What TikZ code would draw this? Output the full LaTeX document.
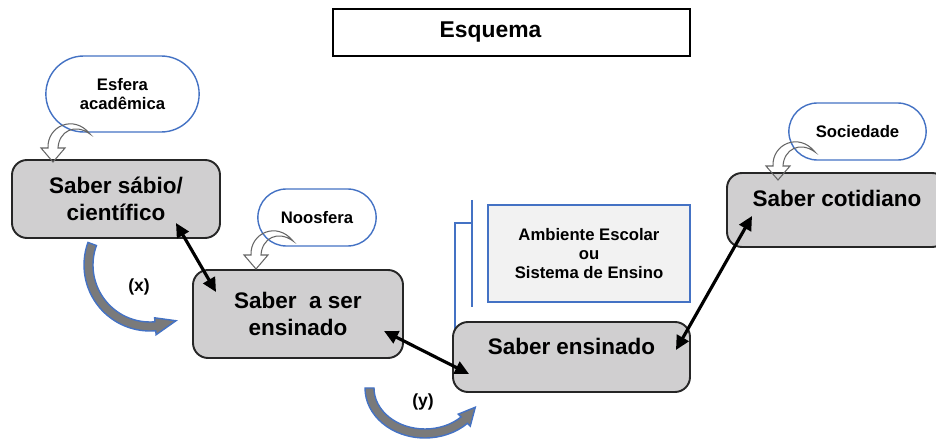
\documentclass[tikz,border=0pt]{standalone}
\usepackage{fontspec}
\setmainfont{Liberation Sans}
\usetikzlibrary{calc,arrows.meta,shapes.misc}
\definecolor{boxgray}{RGB}{208,207,208}
\definecolor{pillblue}{RGB}{68,114,196}
\definecolor{arrowgray}{RGB}{122,122,122}
\definecolor{palegray}{RGB}{242,242,242}
\def\turnarrow(#1){\draw[turn, shift={(#1)}] (0,0) -- (-0.24,0.28) -- (-0.1,0.28) .. controls (-0.12,0.72) and (0.42,0.96) .. (0.74,0.56) .. controls (0.44,0.78) and (0.12,0.62) .. (0.1,0.28) -- (0.24,0.28) -- cycle;}
\def\bentarrow(#1)(#2:#3:#4:#5){\pgfmathsetmacro\bentend{#3+20}\draw[bigarrow, shift={(#1)}] (#2:#4 and #5) arc[start angle=#2, end angle=#3, x radius=#4, y radius=#5] -- (#3:#4+0.08 and #5+0.08) -- (\bentend:#4-0.09 and #5-0.09) -- (#3:#4-0.26 and #5-0.26) -- (#3:#4-0.18 and #5-0.18) arc[start angle=#3, end angle=#2, x radius=#4-0.18, y radius=#5-0.18] -- cycle;}
\tikzset{
  saber/.style={draw=black!85, line width=1.1pt, fill=boxgray, rounded corners=0.3cm, align=center, font=\fontsize{12.8}{15.5}\selectfont\bfseries},
  pill/.style={rounded rectangle, draw=pillblue, line width=0.8pt, fill=white, align=center, font=\fontsize{9.5}{11.3}\selectfont\bfseries},
  link/.style={line width=1.8pt, {Triangle[length=8pt,width=7.5pt]}-{Triangle[length=8pt,width=7.5pt]}},
  turn/.style={draw=black!60, line width=0.6pt},
  bigarrow/.style={draw=pillblue, line width=0.8pt, fill=arrowgray},
  bracket/.style={draw=pillblue, line width=1pt},
}
\begin{document}
\begin{tikzpicture}
		%%%%% START %%%%%
		\useasboundingbox (0,0) rectangle (18.72,-8.78);
		\clip (0,0) rectangle (18.72,-8.78);
		
		\node[draw=black, line width=0.9pt, minimum width=7.14cm, minimum height=0.94cm, font=\fontsize{13}{15}\selectfont\bfseries] (esquema) at (10.23,-0.65) {Esquema\kern0.84cm};
		
		\draw[bracket] (9.44,-4.0) -- (9.44,-6.14);
		\draw[bracket] (9.44,-4.46) -- (9.1,-4.46) -- (9.1,-6.7);
		
		\node[saber, minimum width=4.16cm, minimum height=1.56cm] (sabio) at (2.32,-3.98) {Saber sábio/\\científico};
		\node[saber, minimum width=4.2cm, minimum height=1.76cm] (aser) at (5.96,-6.28) {Saber~ a ser\\ensinado};
		\node[saber, minimum width=4.74cm, minimum height=1.4cm, text depth=11.7pt] (ensinado) at (11.43,-7.14) {Saber ensinado};
		\node[saber, minimum width=4.4cm, minimum height=1.48cm, text depth=12.7pt] (cotidiano) at (16.74,-4.2) {Saber cotidiano};
		
		\node[draw=pillblue, line width=0.9pt, fill=palegray, minimum width=4.04cm, minimum height=1.94cm, align=center, font=\fontsize{9.5}{10.8}\selectfont\bfseries] (ambiente) at (11.78,-5.07) {Ambiente Escolar\\ou\\Sistema de Ensino};
		
		\node[pill, minimum width=3.3cm, minimum height=1.52cm] (esfera) at (2.45,-1.88) {Esfera\\acadêmica};
		\node[pill, minimum width=2.6cm, minimum height=1.14cm] (noosfera) at (6.34,-4.35) {Noosfera};
		\node[pill, minimum width=2.98cm, minimum height=1.14cm] (sociedade) at (17.15,-2.63) {Sociedade};
		
		\turnarrow(1.06,-3.24);
		\turnarrow(5.12,-5.38);
		\turnarrow(15.56,-3.6);
		
		\bentarrow(3.0,-5.3)(160:275:1.32:1.32);
		\bentarrow(8.5,-7.76)(180:315:1.2:1.0);
		
		\draw[link] ($(sabio.south east)+(-0.9,0.32)$) -- ($(aser.north west)+(0.48,-0.46)$);
		\draw[link] ($(aser.south east)+(-0.4,0.56)$) -- ($(ensinado.south west)+(0.34,0.38)$);
		\draw[link] ($(ensinado.east)+(-0.3,0.14)$) -- ($(cotidiano.south west)+(0.52,0.64)$);
		
		\node[font=\fontsize{10}{12}\selectfont\bfseries] (labx) at (2.78,-5.74) {(x)};
		\node[font=\fontsize{10}{12}\selectfont\bfseries] (laby) at (8.46,-8.04) {(y)};
		
		%%%%% END %%%%%
\end{tikzpicture}
\end{document}
